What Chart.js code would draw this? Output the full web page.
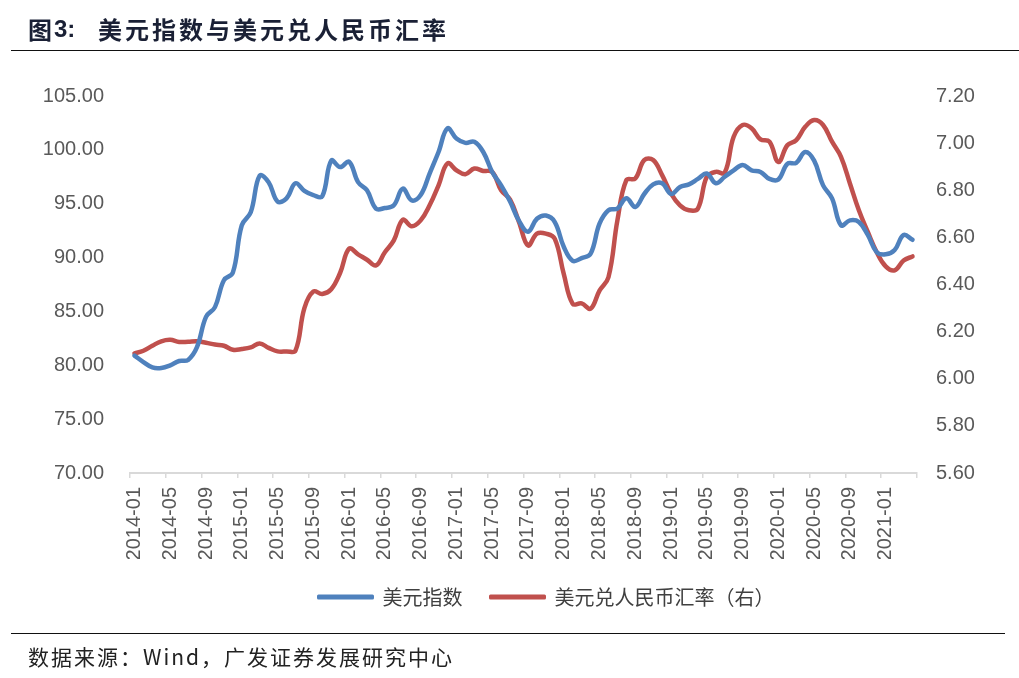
<!DOCTYPE html>
<html lang="zh-CN">
<head>
<meta charset="utf-8">
<title>图3：美元指数与美元兑人民币汇率</title>
<script src="https://cdn.jsdelivr.net/npm/chart.js@4.4.1/dist/chart.umd.min.js"></script>
<style>
  html, body { margin: 0; padding: 0; background: #fff; }
  #page { position: relative; width: 1019px; height: 678px; overflow: hidden; }
  #chartBox { position: absolute; left: 0; top: 0; width: 1019px; height: 678px; }
  .cap { position: absolute; white-space: nowrap; line-height: 32px; color: #1a2035; font-weight: 700; font-size: 24px; }
  .rule { position: absolute; height: 0; border-top: 1.5px solid #111; }
  #source { position: absolute; left: 28px; top: 641px; line-height: 32px; white-space: nowrap;
            font: 400 21px "Noto Sans CJK SC", sans-serif; letter-spacing: 2px; color: #222; }
</style>
</head>
<body>
<div id="page">
  <div id="chartBox"><canvas id="fxChart"></canvas></div>
  <div class="cap" style="left:28px; top:13px; font-family:'Noto Sans CJK SC';">图</div>
  <div class="cap" style="left:54px; top:13px; font-family:'Liberation Sans', Arial;">3:</div>
  <div class="cap" style="left:98px; top:13px; font-family:'Noto Sans CJK SC'; letter-spacing:3px;">美元指数与美元兑人民币汇率</div>
  <div class="rule" style="left:11px; top:50px; width:1008px;"></div>
  <div class="rule" style="left:11px; top:633px; width:994px;"></div>
  <div id="source">数据来源：Wind，广发证券发展研究中心</div>
</div>
<script>
// 月份：2014-01 至 2021-04
const months = [];
for (let k = 0; k < 88; k++) {
    const yr = 2014 + Math.floor(k / 12);
    const mo = (k % 12) + 1;
    months.push(yr + '-' + (mo < 10 ? '0' + mo : mo));
}

// 美元指数（左轴）
const usdIndex = [
    80.9, 80.3, 79.8, 79.75, 80.0, 80.4, 80.5, 81.7, 84.5, 85.4, 87.9, 88.6,
    93.0, 94.2, 97.6, 97.0, 95.2, 95.5, 96.9, 96.2, 95.8, 95.7, 99.0, 98.4,
    98.9, 97.0, 96.25, 94.55, 94.6, 94.85, 96.4, 95.3, 95.8, 97.8, 99.8, 102.0,
    101.05, 100.65, 100.75, 99.8, 97.95, 96.7, 95.2, 93.4, 92.4, 93.6, 93.9, 93.3,
    91.0, 89.7, 89.95, 90.35, 93.15, 94.4, 94.55, 95.5, 94.7, 95.9, 96.8, 96.9,
    95.9, 96.55, 96.8, 97.3, 97.8, 96.9, 97.5, 98.1, 98.6, 98.1, 97.95, 97.3,
    97.25, 98.7, 98.8, 99.8, 99.0, 96.7, 95.5, 93.0, 93.45, 93.3, 92.1, 90.5,
    90.3, 90.7, 92.1, 91.65
];

// 美元兑人民币汇率（右轴）
const usdCny = [
    6.108, 6.119, 6.140, 6.159, 6.165, 6.156, 6.157, 6.159, 6.153, 6.145, 6.140, 6.123,
    6.126, 6.133, 6.150, 6.131, 6.116, 6.116, 6.119, 6.300, 6.370, 6.360, 6.380, 6.450,
    6.552, 6.528, 6.505, 6.481, 6.537, 6.587, 6.675, 6.647, 6.672, 6.736, 6.821, 6.914,
    6.885, 6.868, 6.892, 6.882, 6.878, 6.800, 6.760, 6.665, 6.566, 6.616, 6.616, 6.594,
    6.445, 6.318, 6.320, 6.297, 6.374, 6.431, 6.672, 6.843, 6.850, 6.928, 6.928, 6.864,
    6.786, 6.736, 6.715, 6.722, 6.857, 6.878, 6.874, 7.027, 7.077, 7.063, 7.016, 7.006,
    6.920, 6.991, 7.013, 7.069, 7.098, 7.077, 7.006, 6.942, 6.829, 6.715, 6.623, 6.537,
    6.477, 6.460, 6.502, 6.519
];

const blue = '#4f81bd';
const red = '#c0504d';
const axisGray = '#d9d9d9';
const numFont = { family: "'Liberation Sans', Arial, sans-serif", size: 20 };

// 图例整体右移，居中于绘图区附近（与原图一致）
const legendShift = {
    id: 'legendShift',
    afterLayout(chart) {
        if (chart.legend) chart.legend.left += 74;
    }
};

new Chart(document.getElementById('fxChart'), {
    type: 'line',
    data: {
        labels: months,
        datasets: [
            {
                label: '美元指数',
                data: usdIndex,
                yAxisID: 'y',
                borderColor: blue,
                backgroundColor: blue,
                borderWidth: 4.5,
                pointRadius: 0,
                tension: 0.4,
                borderCapStyle: 'round',
                borderJoinStyle: 'round'
            },
            {
                label: '美元兑人民币汇率（右）',
                data: usdCny,
                yAxisID: 'y1',
                borderColor: red,
                backgroundColor: red,
                borderWidth: 4.5,
                pointRadius: 0,
                tension: 0.4,
                borderCapStyle: 'round',
                borderJoinStyle: 'round'
            }
        ]
    },
    plugins: [legendShift],
    options: {
        responsive: true,
        maintainAspectRatio: false,
        animation: false,
        layout: { padding: { top: 96, bottom: 61, left: 0, right: 0 } },
        plugins: {
            tooltip: { enabled: false },
            legend: {
                position: 'bottom',
                labels: {
                    boxWidth: 54,
                    boxHeight: 2,
                    padding: 28,
                    color: '#404040',
                    font: { family: "'Noto Sans CJK SC', sans-serif", size: 20 },
                    generateLabels(chart) {
                        const items = Chart.defaults.plugins.legend.labels.generateLabels(chart);
                        items.forEach(it => { it.lineWidth = 3; });
                        return items;
                    }
                }
            }
        },
        scales: {
            x: {
                offset: true,
                grid: {
                    offset: true,
                    drawOnChartArea: false,
                    drawTicks: true,
                    tickLength: 5,
                    lineWidth: 1.5,
                    color: c => (c.index === undefined || c.index % 4 === 0) ? axisGray : 'rgba(0,0,0,0)'
                },
                border: { color: axisGray, width: 2 },
                ticks: {
                    autoSkip: false,
                    minRotation: 90,
                    maxRotation: 90,
                    padding: 9,
                    color: '#595959',
                    font: numFont,
                    callback(v, i) { return i % 4 === 0 ? this.getLabelForValue(v) : ''; }
                },
                afterFit(s) { s.height = 86; }
            },
            y: {
                position: 'left',
                min: 70,
                max: 105,
                grid: { display: false, drawTicks: false },
                border: { display: false },
                ticks: {
                    stepSize: 5,
                    padding: 26,
                    color: '#595959',
                    font: numFont,
                    callback: v => v.toFixed(2)
                },
                afterFit(s) { s.width = 130; }
            },
            y1: {
                position: 'right',
                min: 5.6,
                max: 7.2,
                grid: { display: false, drawTicks: false },
                border: { display: false },
                ticks: {
                    stepSize: 0.2,
                    padding: 19,
                    color: '#595959',
                    font: numFont,
                    callback: v => v.toFixed(2)
                },
                afterFit(s) { s.width = 102; }
            }
        }
    }
});
</script>
</body>
</html>
